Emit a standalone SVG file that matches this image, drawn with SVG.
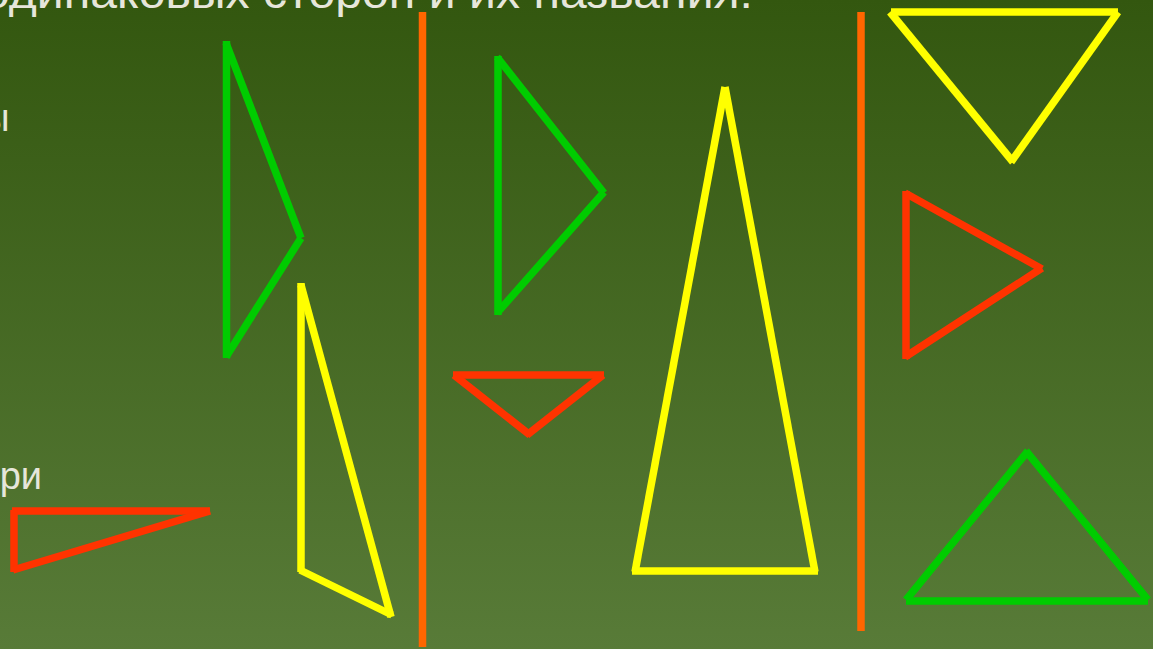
<svg xmlns="http://www.w3.org/2000/svg" width="1153" height="649" viewBox="0 0 1153 649">
  <defs>
    <linearGradient id="bg" x1="0" y1="0" x2="0" y2="1">
      <stop offset="0" stop-color="#33570f"/>
      <stop offset="1" stop-color="#587b38"/>
    </linearGradient>
  </defs>
  <style>
    .t { font-family: "Liberation Sans", Arial, sans-serif; fill: #e6e6da; }
    .s { fill: none; stroke-width: 7.5; stroke-linecap: butt; }
    .g { stroke: #00cc00; }
    .y { stroke: #ffff00; }
    .r { stroke: #ff3300; }
    .o { stroke: #ff6600; stroke-width: 7.5; }
  </style>
  <rect width="1153" height="649" fill="url(#bg)"/>

  <g id="title">
    <text class="t" x="-17" y="8" font-size="44" textLength="770" lengthAdjust="spacingAndGlyphs">одинаковых сторон и их названия.</text>
  </g>
  <g id="label-1">
    <text class="t" x="9.5" y="131" font-size="38" text-anchor="end">ы</text>
  </g>
  <g id="label-2">
    <text class="t" x="42" y="489" font-size="38" text-anchor="end">ри</text>
  </g>

  <g id="dividers">
    <line class="o" x1="422.5" y1="12" x2="422.5" y2="647"/>
    <line class="o" x1="861" y1="12" x2="861" y2="631"/>
  </g>

  <g id="tri-green-left">
    <line class="s g" x1="226.5" y1="41" x2="226.5" y2="358"/>
    <line class="s g" x1="226" y1="43" x2="301" y2="238"/>
    <line class="s g" x1="301" y1="238" x2="226" y2="357"/>
  </g>
  <g id="tri-yellow-left">
    <line class="s y" x1="301" y1="283" x2="301" y2="572"/>
    <line class="s y" x1="301" y1="285" x2="391" y2="617"/>
    <line class="s y" x1="300" y1="570" x2="392" y2="615"/>
  </g>
  <g id="tri-red-left">
    <line class="s r" x1="12" y1="511" x2="210" y2="511"/>
    <line class="s r" x1="14" y1="510" x2="14" y2="572"/>
    <line class="s r" x1="13" y1="570" x2="210" y2="511"/>
  </g>
  <g id="tri-green-mid">
    <line class="s g" x1="498" y1="56" x2="498" y2="315"/>
    <line class="s g" x1="497" y1="57" x2="604" y2="193"/>
    <line class="s g" x1="604" y1="192" x2="497" y2="313"/>
  </g>
  <g id="tri-red-mid">
    <line class="s r" x1="453" y1="375" x2="604" y2="375"/>
    <line class="s r" x1="454" y1="375" x2="530" y2="435"/>
    <line class="s r" x1="603" y1="375" x2="527" y2="435"/>
  </g>
  <g id="tri-yellow-tall">
    <line class="s y" x1="725" y1="87" x2="635" y2="572"/>
    <line class="s y" x1="725" y1="87" x2="815" y2="572"/>
    <line class="s y" x1="632" y1="571" x2="818" y2="571"/>
  </g>
  <g id="tri-yellow-right">
    <line class="s y" x1="891" y1="12" x2="1118" y2="12"/>
    <line class="s y" x1="890" y1="12" x2="1013" y2="162"/>
    <line class="s y" x1="1118" y1="12" x2="1011" y2="162"/>
  </g>
  <g id="tri-red-right">
    <line class="s r" x1="906" y1="191" x2="906" y2="359"/>
    <line class="s r" x1="905" y1="193" x2="1042" y2="269"/>
    <line class="s r" x1="1042" y1="268" x2="905" y2="357"/>
  </g>
  <g id="tri-green-right">
    <line class="s g" x1="906" y1="601" x2="1148" y2="601"/>
    <line class="s g" x1="906" y1="600" x2="1028" y2="451"/>
    <line class="s g" x1="1026" y1="451" x2="1148" y2="600"/>
  </g>
</svg>
